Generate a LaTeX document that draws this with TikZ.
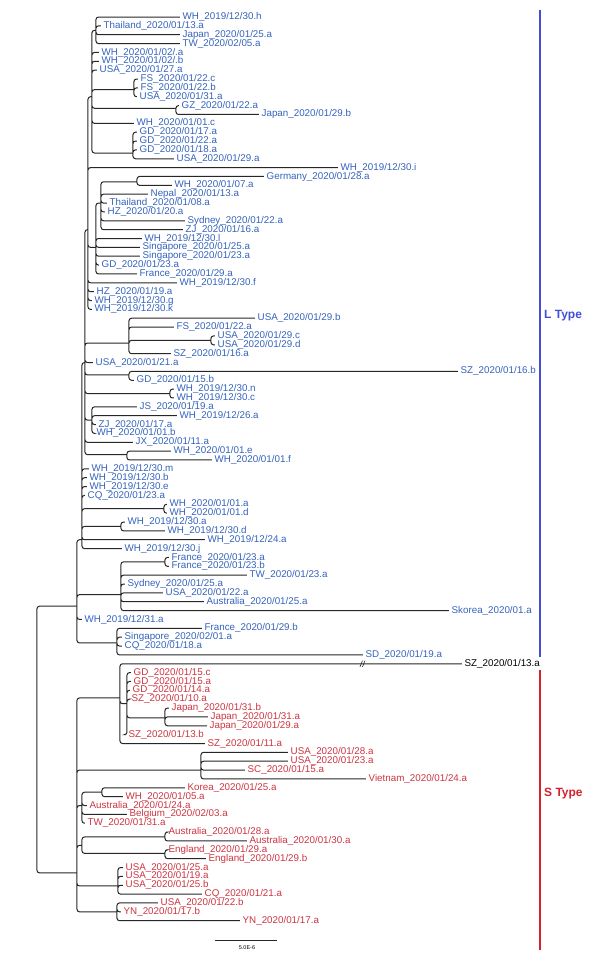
\documentclass[tikz,border=0pt]{standalone}
\usepackage{fontspec}
\setmainfont{Liberation Sans}
\definecolor{ltext}{RGB}{52,98,188}
\definecolor{stext}{RGB}{204,52,64}
\definecolor{lbar}{RGB}{66,78,214}
\definecolor{sbar}{RGB}{214,32,44}
\begin{document}
\begin{tikzpicture}[x=1pt,y=-8.86pt,
  every node/.style={font=\fontsize{9.8}{10}\selectfont,anchor=west,inner sep=2.5pt},
  lt/.style={text=ltext}, st/.style={text=stext},
  br/.style={line width=1pt,black!85,rounded corners=2.5pt},
  typelabel/.style={font=\bfseries\fontsize{12}{12}\selectfont,inner sep=0pt}]
 \useasboundingbox (0,-0.919) rectangle (600,107.55);
 % L type leaves
 \node[lt] (WH191230h) at (180,1) {WH\_2019/12/30.h};
 \node[lt] (Thailand200113a) at (101,2) {Thailand\_2020/01/13.a};
 \node[lt] (Japan200125a) at (180,3) {Japan\_2020/01/25.a};
 \node[lt] (TW200205a) at (180,4) {TW\_2020/02/05.a};
 \node[lt] (WH200102a) at (99,5) {WH\_2020/01/02/.a};
 \node[lt] (WH200102b) at (99,6) {WH\_2020/01/02/.b};
 \node[lt] (USA200127a) at (97,7) {USA\_2020/01/27.a};
 \node[lt] (FS200122c) at (138,8) {FS\_2020/01/22.c};
 \node[lt] (FS200122b) at (138,9) {FS\_2020/01/22.b};
 \node[lt] (USA200131a) at (137,10) {USA\_2020/01/31.a};
 \node[lt] (GZ200122a) at (179,11) {GZ\_2020/01/22.a};
 \node[lt] (Japan200129b) at (259,12) {Japan\_2020/01/29.b};
 \node[lt] (WH200101c) at (134,13) {WH\_2020/01/01.c};
 \node[lt] (GD200117a) at (137,14) {GD\_2020/01/17.a};
 \node[lt] (GD200122a) at (137,15) {GD\_2020/01/22.a};
 \node[lt] (GD200118a) at (137,16) {GD\_2020/01/18.a};
 \node[lt] (USA200129a) at (174,17) {USA\_2020/01/29.a};
 \node[lt] (WH191230i) at (338,18) {WH\_2019/12/30.i};
 \node[lt] (Germany200128a) at (264,19) {Germany\_2020/01/28.a};
 \node[lt] (WH200107a) at (172,20) {WH\_2020/01/07.a};
 \node[lt] (Nepal200113a) at (148,21) {Nepal\_2020/01/13.a};
 \node[lt] (Thailand200108a) at (107,22) {Thailand\_2020/01/08.a};
 \node[lt] (HZ200120a) at (105,23) {HZ\_2020/01/20.a};
 \node[lt] (Sydney200122a) at (185,24) {Sydney\_2020/01/22.a};
 \node[lt] (ZJ200116a) at (183,25) {ZJ\_2020/01/16.a};
 \node[lt] (WH191230l) at (142,26) {WH\_2019/12/30.l};
 \node[lt] (Singapore200125a) at (140,27) {Singapore\_2020/01/25.a};
 \node[lt] (Singapore200123a) at (140,28) {Singapore\_2020/01/23.a};
 \node[lt] (GD200123a) at (99,29) {GD\_2020/01/23.a};
 \node[lt] (France200129a) at (137,30) {France\_2020/01/29.a};
 \node[lt] (WH191230f) at (177,31) {WH\_2019/12/30.f};
 \node[lt] (HZ200119a) at (94,32) {HZ\_2020/01/19.a};
 \node[lt] (WH191230g) at (92,33) {WH\_2019/12/30.g};
 \node[lt] (WH191230k) at (92,34) {WH\_2019/12/30.k};
 \node[lt] (USA200129b) at (255,35) {USA\_2020/01/29.b};
 \node[lt] (FS200122a) at (174,36) {FS\_2020/01/22.a};
 \node[lt] (USA200129c) at (215,37) {USA\_2020/01/29.c};
 \node[lt] (USA200129d) at (215,38) {USA\_2020/01/29.d};
 \node[lt] (SZ200116a) at (171,39) {SZ\_2020/01/16.a};
 \node[lt] (USA200121a) at (93,40) {USA\_2020/01/21.a};
 \node[lt] (SZ200116b) at (458,41) {SZ\_2020/01/16.b};
 \node[lt] (GD200115b) at (134,42) {GD\_2020/01/15.b};
 \node[lt] (WH191230n) at (174,43) {WH\_2019/12/30.n};
 \node[lt] (WH191230c) at (174,44) {WH\_2019/12/30.c};
 \node[lt] (JS200119a) at (137,45) {JS\_2020/01/19.a};
 \node[lt] (WH191226a) at (177,46) {WH\_2019/12/26.a};
 \node[lt] (ZJ200117a) at (96,47) {ZJ\_2020/01/17.a};
 \node[lt] (WH200101b) at (94,48) {WH\_2020/01/01.b};
 \node[lt] (JX200111a) at (133,49) {JX\_2020/01/11.a};
 \node[lt] (WH200101e) at (171,50) {WH\_2020/01/01.e};
 \node[lt] (WH200101f) at (212,51) {WH\_2020/01/01.f};
 \node[lt] (WH191230m) at (89,52) {WH\_2019/12/30.m};
 \node[lt] (WH191230b) at (87,53) {WH\_2019/12/30.b};
 \node[lt] (WH191230e) at (87,54) {WH\_2019/12/30.e};
 \node[lt] (CQ200123a) at (85,55) {CQ\_2020/01/23.a};
 \node[lt] (WH200101a) at (167,56) {WH\_2020/01/01.a};
 \node[lt] (WH200101d) at (167,57) {WH\_2020/01/01.d};
 \node[lt] (WH191230a) at (125,58) {WH\_2019/12/30.a};
 \node[lt] (WH191230d) at (165,59) {WH\_2019/12/30.d};
 \node[lt] (WH191224a) at (205,60) {WH\_2019/12/24.a};
 \node[lt] (WH191230j) at (122,61) {WH\_2019/12/30.j};
 \node[lt] (France200123a) at (169,62) {France\_2020/01/23.a};
 \node[lt] (France200123b) at (169,63) {France\_2020/01/23.b};
 \node[lt] (TW200123a) at (247,64) {TW\_2020/01/23.a};
 \node[lt] (Sydney200125a) at (125,65) {Sydney\_2020/01/25.a};
 \node[lt] (USA200122a) at (163,66) {USA\_2020/01/22.a};
 \node[lt] (Australia200125a) at (204,67) {Australia\_2020/01/25.a};
 \node[lt] (Skorea2001a) at (449,68) {Skorea\_2020/01.a};
 \node[lt] (WH191231a) at (82,69) {WH\_2019/12/31.a};
 \node[lt] (France200129b) at (202,70) {France\_2020/01/29.b};
 \node[lt] (Singapore200201a) at (122,71) {Singapore\_2020/02/01.a};
 \node[lt] (CQ200118a) at (122,72) {CQ\_2020/01/18.a};
 \node[lt] (SD200119a) at (363,73) {SD\_2020/01/19.a};
 \node (SZ200113a) at (462,74) {SZ\_2020/01/13.a};
 % S type leaves
 \node[st] (GD200115c) at (131,75) {GD\_2020/01/15.c};
 \node[st] (GD200115a) at (131,76) {GD\_2020/01/15.a};
 \node[st] (GD200114a) at (130,77) {GD\_2020/01/14.a};
 \node[st] (SZ200110a) at (129,78) {SZ\_2020/01/10.a};
 \node[st] (Japan200131b) at (169,79) {Japan\_2020/01/31.b};
 \node[st] (Japan200131a) at (208,80) {Japan\_2020/01/31.a};
 \node[st] (Japan200129a) at (207,81) {Japan\_2020/01/29.a};
 \node[st] (SZ200113b) at (126,82) {SZ\_2020/01/13.b};
 \node[st] (SZ200111a) at (205,83) {SZ\_2020/01/11.a};
 \node[st] (USA200128a) at (288,84) {USA\_2020/01/28.a};
 \node[st] (USA200123a) at (288,85) {USA\_2020/01/23.a};
 \node[st] (SC200115a) at (245,86) {SC\_2020/01/15.a};
 \node[st] (Vietnam200124a) at (366,87) {Vietnam\_2020/01/24.a};
 \node[st] (Korea200125a) at (185,88) {Korea\_2020/01/25.a};
 \node[st] (WH200105a) at (123,89) {WH\_2020/01/05.a};
 \node[st] (Australia200124a) at (87,90) {Australia\_2020/01/24.a};
 \node[st] (Belgium200203a) at (127,91) {Belgium\_2020/02/03.a};
 \node[st] (TW200131a) at (85,92) {TW\_2020/01/31.a};
 \node[st] (Australia200128a) at (166,93) {Australia\_2020/01/28.a};
 \node[st] (Australia200130a) at (247,94) {Australia\_2020/01/30.a};
 \node[st] (England200129a) at (166,95) {England\_2020/01/29.a};
 \node[st] (England200129b) at (206,96) {England\_2020/01/29.b};
 \node[st] (USA200125a) at (123,97) {USA\_2020/01/25.a};
 \node[st] (USA200119a) at (123,98) {USA\_2020/01/19.a};
 \node[st] (USA200125b) at (123,99) {USA\_2020/01/25.b};
 \node[st] (CQ200121a) at (202,100) {CQ\_2020/01/21.a};
 \node[st] (USA200122b) at (158,101) {USA\_2020/01/22.b};
 \node[st] (YN200117b) at (121,102) {YN\_2020/01/17.b};
 \node[st] (YN200117a) at (240,103) {YN\_2020/01/17.a};
 % inner nodes
 \coordinate (root) at (37,82);
 \coordinate (Lcrown) at (77,67.5);
 \coordinate (Lmain) at (82,60);
 \coordinate (Lmid) at (85,40);
 \coordinate (Lup) at (88,25);
 \coordinate (Ltop) at (92,10);
 \coordinate (nWHh) at (96,2.5);
 \coordinate (nFS) at (134,9.2);
 \coordinate (nGZ) at (176,11.3);
 \coordinate (nGD) at (133,16.35);
 \coordinate (nSing) at (96,27);
 \coordinate (nGermany) at (101,22);
 \coordinate (nGermany2) at (137,19.6);
 \coordinate (nUSA29) at (129,37.8);
 \coordinate (nUSA29cd) at (211,37.5);
 \coordinate (nSZ16) at (129,41.4);
 \coordinate (nWHnc) at (170,43.5);
 \coordinate (nJS) at (92,46.5);
 \coordinate (nWHef) at (127,50.4);
 \coordinate (nWHad) at (164,56.5);
 \coordinate (nWH30ad) at (121,58.5);
 \coordinate (nFrance) at (121,66.2);
 \coordinate (nFrance23) at (165,62.5);
 \coordinate (nSing2) at (117,71.65);
 \coordinate (Scrown) at (77,97.6);
 \coordinate (nSZ13) at (120,77.86);
 \coordinate (nGD15) at (127,78.5);
 \coordinate (nJapan) at (165,80.1);
 \coordinate (nUSA28) at (201,86);
 \coordinate (nKorea) at (82,90);
 \coordinate (nKorea2) at (102,88.5);
 \coordinate (nAusEng) at (82,94.5);
 \coordinate (nAus) at (165,93.55);
 \coordinate (nEng) at (165,95.4);
 \coordinate (nUSA25) at (118,99.08);
 \coordinate (nYN) at (117,102);
 % branches
 \draw[br] (root) |- (Lcrown) (root) |- (Scrown);
 \draw[br] (Lcrown) |- (Lmain) (Lcrown) |- (nFrance) (Lcrown) |- (WH191231a.west) (Lcrown) |- (nSing2);
 \draw[br] (Lmain) |- (Lmid) (Lmain) |- (WH191230m.west) (Lmain) |- (WH191230b.west) (Lmain) |- (WH191230e.west)
   (Lmain) |- (CQ200123a.west) (Lmain) |- (nWHad) (Lmain) |- (nWH30ad) (Lmain) |- (WH191224a.west) (Lmain) |- (WH191230j.west);
 \draw[br] (Lmid) |- (Lup) (Lmid) |- (nUSA29) (Lmid) |- (USA200121a.west) (Lmid) |- (nSZ16) (Lmid) |- (nWHnc)
   (Lmid) |- (nJS) (Lmid) |- (JX200111a.west) (Lmid) |- (nWHef);
 \draw[br] (Lup) |- (Ltop) (Lup) |- (WH191230i.west) (Lup) |- (nSing) (Lup) |- (WH191230f.west)
   (Lup) |- (HZ200119a.west) (Lup) |- (WH191230g.west) (Lup) |- (WH191230k.west);
 \draw[br] (Ltop) |- (nWHh) (Ltop) |- (WH200102a.west) (Ltop) |- (WH200102b.west) (Ltop) |- (USA200127a.west)
   (Ltop) |- (nFS) (Ltop) |- (nGZ) (Ltop) |- (WH200101c.west) (Ltop) |- (nGD);
 \draw[br] (nWHh) |- (WH191230h.west) (nWHh) |- (Thailand200113a.west) (nWHh) |- (Japan200125a.west) (nWHh) |- (TW200205a.west);
 \draw[br] (nFS) |- (FS200122c.west) (nFS) |- (FS200122b.west) (nFS) |- (USA200131a.west);
 \draw[br] (nGZ) |- (GZ200122a.west) (nGZ) |- (Japan200129b.west);
 \draw[br] (nGD) |- (GD200117a.west) (nGD) |- (GD200122a.west) (nGD) |- (GD200118a.west) (nGD) |- (USA200129a.west);
 \draw[br] (nSing) |- (nGermany) (nSing) |- (WH191230l.west) (nSing) |- (Singapore200125a.west)
   (nSing) |- (Singapore200123a.west) (nSing) |- (GD200123a.west) (nSing) |- (France200129a.west);
 \draw[br] (nGermany) |- (nGermany2) (nGermany) |- (Nepal200113a.west) (nGermany) |- (Thailand200108a.west)
   (nGermany) |- (HZ200120a.west) (nGermany) |- (Sydney200122a.west) (nGermany) |- (ZJ200116a.west);
 \draw[br] (nGermany2) |- (Germany200128a.west) (nGermany2) |- (WH200107a.west);
 \draw[br] (nUSA29) |- (USA200129b.west) (nUSA29) |- (FS200122a.west) (nUSA29) |- (nUSA29cd) (nUSA29) |- (SZ200116a.west);
 \draw[br] (nUSA29cd) |- (USA200129c.west) (nUSA29cd) |- (USA200129d.west);
 \draw[br] (nSZ16) |- (SZ200116b.west) (nSZ16) |- (GD200115b.west);
 \draw[br] (nWHnc) |- (WH191230n.west) (nWHnc) |- (WH191230c.west);
 \draw[br] (nJS) |- (JS200119a.west) (nJS) |- (WH191226a.west) (nJS) |- (ZJ200117a.west) (nJS) |- (WH200101b.west);
 \draw[br] (nWHef) |- (WH200101e.west) (nWHef) |- (WH200101f.west);
 \draw[br] (nWHad) |- (WH200101a.west) (nWHad) |- (WH200101d.west);
 \draw[br] (nWH30ad) |- (WH191230a.west) (nWH30ad) |- (WH191230d.west);
 \draw[br] (nFrance) |- (nFrance23) (nFrance) |- (TW200123a.west) (nFrance) |- (Sydney200125a.west)
   (nFrance) |- (USA200122a.west) (nFrance) |- (Australia200125a.west) (nFrance) |- (Skorea2001a.west);
 \draw[br] (nFrance23) |- (France200123a.west) (nFrance23) |- (France200123b.west);
 \draw[br] (nSing2) |- (France200129b.west) (nSing2) |- (Singapore200201a.west) (nSing2) |- (CQ200118a.west) (nSing2) |- (SD200119a.west);
 \draw[br] (Scrown) |- (nSZ13) (Scrown) |- (nUSA28) (Scrown) |- (nKorea) (Scrown) |- (nAusEng) (Scrown) |- (nUSA25) (Scrown) |- (nYN);
 \draw[br] (nSZ13) |- (SZ200113a.west) (nSZ13) |- (nGD15) (nSZ13) |- (SZ200111a.west);
 \draw[br] (nGD15) |- (GD200115c.west) (nGD15) |- (GD200115a.west) (nGD15) |- (GD200114a.west) (nGD15) |- (SZ200110a.west)
   (nGD15) |- (nJapan) (nGD15) |- (SZ200113b.west);
 \draw[br] (nJapan) |- (Japan200131b.west) (nJapan) |- (Japan200131a.west) (nJapan) |- (Japan200129a.west);
 \draw[br] (nUSA28) |- (USA200128a.west) (nUSA28) |- (USA200123a.west) (nUSA28) |- (SC200115a.west) (nUSA28) |- (Vietnam200124a.west);
 \draw[br] (nKorea) |- (nKorea2) (nKorea) |- (Australia200124a.west) (nKorea) |- (Belgium200203a.west) (nKorea) |- (TW200131a.west);
 \draw[br] (nKorea2) |- (Korea200125a.west) (nKorea2) |- (WH200105a.west);
 \draw[br] (nAusEng) |- (nAus) (nAusEng) |- (nEng);
 \draw[br] (nAus) |- (Australia200128a.west) (nAus) |- (Australia200130a.west);
 \draw[br] (nEng) |- (England200129a.west) (nEng) |- (England200129b.west);
 \draw[br] (nUSA25) |- (USA200125a.west) (nUSA25) |- (USA200119a.west) (nUSA25) |- (USA200125b.west) (nUSA25) |- (CQ200121a.west);
 \draw[br] (nYN) |- (USA200122b.west) (nYN) |- (YN200117b.west) (nYN) |- (YN200117a.west);
 % break on the long branch
 \draw[br,rounded corners=0pt,line width=0.6pt] (360,74.35) -- (362.5,73.65) (362.5,74.35) -- (365,73.65);
 % type bars
 \coordinate (Lbar1) at (540,0.21);
 \coordinate (Lbar2) at (540,73.2);
 \coordinate (Sbar1) at (540,74.7);
 \coordinate (Sbar2) at (540,106.3);
 \draw[lbar,line width=2pt] (Lbar1) -- (Lbar2);
 \draw[sbar,line width=2pt] (Sbar1) -- (Sbar2);
 \node[typelabel,text=lbar] (Ltype) at (544,34.75) {L Type};
 \node[typelabel,text=sbar] (Stype) at (544,88.6) {S Type};
 % scale bar
 \coordinate (scaleA) at (215,105.26);
 \coordinate (scaleB) at (277,105.26);
 \draw[line width=0.8pt,black!85] (scaleA) -- (scaleB);
 \node[anchor=center,font=\fontsize{5.5}{6}\selectfont,inner sep=0pt] (scale) at (247,106.08) {5.0E-6};
\end{tikzpicture}
\end{document}
